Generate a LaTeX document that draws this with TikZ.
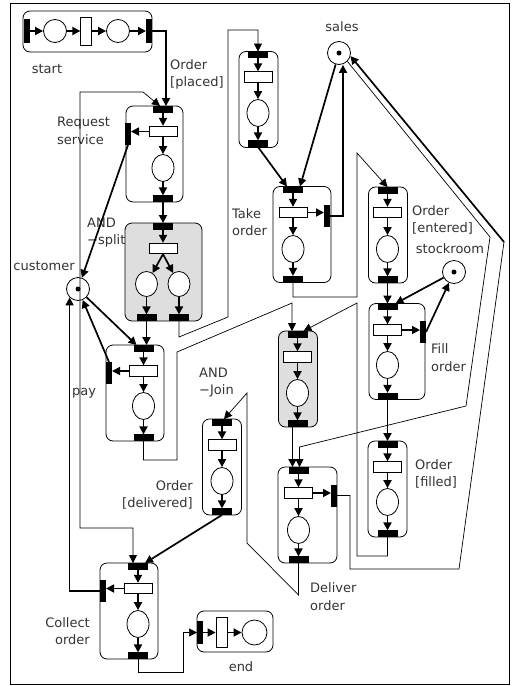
\documentclass[tikz,border=0pt]{standalone}
\usepackage{fontspec}
\setmainfont{DejaVu Sans}
\usepackage{tikz}
\usetikzlibrary{shapes.geometric,arrows.meta,positioning}

\begin{document}
\begin{tikzpicture}[
    x=1pt, y=-1pt,
    font=\fontsize{13}{17.5}\selectfont,
    box/.style={draw, rounded corners=7pt, line width=0.8pt, minimum width=58pt, minimum height=96pt, inner sep=0pt},
    nbox/.style={box, minimum width=39pt},
    gbox/.style={nbox, fill=black!13},
    hbox/.style={draw, rounded corners=7pt, line width=0.8pt, minimum height=41pt, inner sep=0pt},
    bar/.style={fill=black, minimum width=20pt, minimum height=6.5pt, inner sep=0pt, outer sep=0pt},
    vbar/.style={fill=black, minimum width=6pt, minimum height=22pt, inner sep=0pt, outer sep=0pt},
    trans/.style={draw, fill=white, line width=0.8pt, minimum width=28pt, minimum height=10.5pt, inner sep=0pt},
    vtrans/.style={trans, minimum width=10.5pt, minimum height=28pt},
    place/.style={draw, ellipse, fill=white, line width=0.8pt, minimum width=22pt, minimum height=27pt, inner sep=0pt},
    res/.style={draw, circle, fill=white, line width=0.8pt, minimum size=23pt, inner sep=0pt},
    token/.style={fill=black, circle, minimum size=5pt, inner sep=0pt},
    lbl/.style={inner sep=0pt, text=black!80},
    arrow/.style={-{Triangle[length=8pt, width=8pt]}, line width=1.7pt},
    link/.style={line width=0.7pt},
    linkarrow/.style={link, -{Triangle[length=8pt, width=8pt]}}
]
\useasboundingbox (0,0) rectangle (513,686);
\draw[line width=0.9pt] (10,3) rectangle (509,684);

% start and end
\node[hbox, minimum width=129pt] (start) at (87.5,31.5) {};
\node[vbar, minimum height=24pt] (st-in) at (26.5,31) {};
\node[res] (st-p1) at (55,31) {};
\node[vtrans] (st-t) at (86,31) {};
\node[res] (st-p2) at (118,31) {};
\node[vbar, minimum height=24pt] (st-out) at (149,31) {};
\node[lbl] (l-start) at (47,69) {start};

\node[hbox, minimum width=76pt] (end) at (235,631.5) {};
\node[vbar, minimum height=23pt] (en-in) at (200,632.5) {};
\node[vtrans, minimum width=11pt, minimum height=30pt] (en-t) at (221.5,632.5) {};
\node[res, minimum size=25pt] (en-p) at (254.5,632.5) {};
\node[lbl] (l-end) at (241,667) {end};

% resources
\node[res] (cust) at (78,289) {};
\node[token] (cust-tok) at (cust) {};
\node[res] (sales) at (339,53) {};
\node[token] (sales-tok) at (sales) {};
\node[res] (stock) at (454,272) {};
\node[token] (stock-tok) at (stock) {};

% Request service
\node[box, minimum width=57pt] (rs) at (154.5,154) {};
\node[bar] (rs-in) at (163,109.3) {};
\node[trans] (rs-t) at (163,131.5) {};
\node[place] (rs-p) at (163,168) {};
\node[bar] (rs-out) at (163,198.7) {};
\node[vbar] (rs-s) at (128,134) {};

% AND-split
\node[box, minimum width=77pt, minimum height=98pt, fill=black!13] (as) at (163.5,272) {};
\node[bar] (as-in) at (163,226.3) {};
\node[trans] (as-t) at (163,248.5) {};
\node[place, minimum height=25pt] (as-p1) at (146.5,284) {};
\node[place, minimum height=25pt] (as-p2) at (179,284) {};
\node[bar] (as-o1) at (146.5,317.7) {};
\node[bar] (as-o2) at (179,317.7) {};

% pay
\node[box] (pay) at (135,393) {};
\node[bar] (pay-in) at (143.5,348.3) {};
\node[trans] (pay-t) at (143.5,371) {};
\node[place] (pay-p) at (143.5,406) {};
\node[bar] (pay-out) at (143.5,437.7) {};
\node[vbar] (pay-s) at (109,373) {};

% receive
\node[nbox] (rc) at (258.5,99.5) {};
\node[bar] (rc-in) at (258,54.8) {};
\node[trans] (rc-t) at (258,77) {};
\node[place] (rc-p) at (258,113) {};
\node[bar] (rc-out) at (258,143.7) {};

% Take order
\node[box] (to) at (302,234.5) {};
\node[bar] (to-in) at (293,189.8) {};
\node[trans] (to-t) at (293,212.5) {};
\node[place] (to-p) at (293,249) {};
\node[bar] (to-out) at (293,279.2) {};
\node[vbar] (to-s) at (327,216) {};

% Order entered
\node[nbox] (oe) at (388,235) {};
\node[bar] (oe-in) at (387.5,190.3) {};
\node[trans] (oe-t) at (387.5,212.5) {};
\node[place] (oe-p) at (387.5,249) {};
\node[bar] (oe-out) at (387.5,279.7) {};

% Fill order
\node[box, minimum width=56pt] (fo) at (397,351.5) {};
\node[bar] (fo-in) at (387.5,306.8) {};
\node[trans] (fo-t) at (387.5,330) {};
\node[place] (fo-p) at (387.5,365) {};
\node[bar] (fo-out) at (387.5,396.2) {};
\node[vbar] (fo-s) at (423,332) {};

% Order filled
\node[nbox] (of) at (387.5,489) {};
\node[bar] (of-in) at (387.5,444.3) {};
\node[trans] (of-t) at (387.5,467) {};
\node[place] (of-p) at (387.5,502) {};
\node[bar] (of-out) at (387.5,533.7) {};

% AND-join (grey)
\node[gbox] (gy) at (298,379) {};
\node[bar] (gy-in) at (297.5,334.3) {};
\node[trans] (gy-t) at (297.5,357) {};
\node[place] (gy-p) at (297.5,393) {};
\node[bar] (gy-out) at (297.5,423.7) {};

% Deliver order
\node[box, minimum width=59pt] (dl) at (307.5,515) {};
\node[bar] (dl-in) at (298.5,470.3) {};
\node[trans] (dl-t) at (298.5,493) {};
\node[place] (dl-p) at (298.5,530) {};
\node[bar] (dl-out) at (298.5,559.7) {};
\node[vbar] (dl-s) at (334,495.5) {};

% Order delivered
\node[nbox] (de) at (222,467) {};
\node[bar] (de-in) at (222,422.3) {};
\node[trans] (de-t) at (222,445) {};
\node[place] (de-p) at (222,481) {};
\node[bar] (de-out) at (222,511.7) {};

% Collect order
\node[box] (co) at (129,611) {};
\node[bar] (co-in) at (138,566.3) {};
\node[trans] (co-t) at (138,588.5) {};
\node[place] (co-p) at (138,624) {};
\node[bar] (co-out) at (138,655.7) {};
\node[vbar] (co-s) at (103,591) {};

% labels
\node[lbl, anchor=west, align=left] (l-placed) at (170,74.5) {Order\\{[placed]}};
\node[lbl, anchor=west, align=left] (l-rs) at (57,131) {Request\\service};
\node[lbl, anchor=west, align=left] (l-split) at (87,232.5) {AND\\−split};
\node[lbl] (l-cust) at (44,266) {customer};
\node[lbl] (l-pay) at (84,393) {pay};
\node[lbl] (l-sales) at (342,27) {sales};
\node[lbl, anchor=west, align=left] (l-take) at (232,222) {Take\\order};
\node[lbl, anchor=west, align=left] (l-ent) at (412,220) {Order\\{[entered]}};
\node[lbl] (l-stock) at (450,249) {stockroom};
\node[lbl, anchor=west, align=left] (l-fill) at (431,357.5) {Fill\\order};
\node[lbl, anchor=west, align=left] (l-join) at (199,382.5) {AND\\−Join};
\node[lbl, anchor=east, align=right] (l-dlvd) at (193,495) {Order\\{[delivered]}};
\node[lbl, anchor=west, align=left] (l-filled) at (415,474) {Order\\{[filled]}};
\node[lbl, anchor=west, align=left] (l-dl) at (310,596.5) {Deliver\\order};
\node[lbl, anchor=east, align=right] (l-co) at (90,631) {Collect\\order};

% inside the boxes
\draw[arrow] (st-in) -- (st-p1);
\draw[arrow] (st-p1) -- (st-t);
\draw[arrow] (st-t) -- (st-p2);
\draw[arrow] (st-p2) -- (st-out);
\draw[arrow] (en-in) -- (en-t);
\draw[arrow] (en-t) -- (en-p);
\draw[arrow] (rs-in) -- (rs-t);
\draw[arrow] (rs-t) -- (rs-p);
\draw[arrow] (rs-p) -- (rs-out);
\draw[arrow] (rs-t.west) -- (rs-s.east |- rs-t.west);
\draw[arrow] (as-in) -- (as-t);
\draw[arrow] (as-t.south) -- (as-p1);
\draw[arrow] (as-t.south) -- (as-p2);
\draw[arrow] (as-p1) -- (as-o1);
\draw[arrow] (as-p2) -- (as-o2);
\draw[arrow] (pay-in) -- (pay-t);
\draw[arrow] (pay-t) -- (pay-p);
\draw[arrow] (pay-p) -- (pay-out);
\draw[arrow] (pay-t.west) -- (pay-s.east |- pay-t.west);
\draw[arrow] (rc-in) -- (rc-t);
\draw[arrow] (rc-t) -- (rc-p);
\draw[arrow] (rc-p) -- (rc-out);
\draw[arrow] (to-in) -- (to-t);
\draw[arrow] (to-t) -- (to-p);
\draw[arrow] (to-p) -- (to-out);
\draw[arrow] (to-t.east) -- (to-s.west |- to-t.east);
\draw[arrow] (oe-in) -- (oe-t);
\draw[arrow] (oe-t) -- (oe-p);
\draw[arrow] (oe-p) -- (oe-out);
\draw[arrow] (fo-in) -- (fo-t);
\draw[arrow] (fo-t) -- (fo-p);
\draw[arrow] (fo-p) -- (fo-out);
\draw[arrow] (fo-t.east) -- (fo-s.west |- fo-t.east);
\draw[arrow] (of-in) -- (of-t);
\draw[arrow] (of-t) -- (of-p);
\draw[arrow] (of-p) -- (of-out);
\draw[arrow] (gy-in) -- (gy-t);
\draw[arrow] (gy-t) -- (gy-p);
\draw[arrow] (gy-p) -- (gy-out);
\draw[arrow] (dl-in) -- (dl-t);
\draw[arrow] (dl-t) -- (dl-p);
\draw[arrow] (dl-p) -- (dl-out);
\draw[arrow] (dl-t.east) -- (dl-s.west |- dl-t.east);
\draw[arrow] (de-in) -- (de-t);
\draw[arrow] (de-t) -- (de-p);
\draw[arrow] (de-p) -- (de-out);
\draw[arrow] (co-in) -- (co-t);
\draw[arrow] (co-t) -- (co-p);
\draw[arrow] (co-p) -- (co-out);
\draw[arrow] (co-t.west) -- (co-s.east |- co-t.west);

% between the boxes
\draw[arrow] (st-out.east) -| ([xshift=3pt]rs-in.north);
\draw[arrow] (rs-out) -- (as-in);
\draw[arrow] (as-o1.south) -- (as-o1.south |- pay-in.north);
\draw[arrow] (rc-out.south) -- ([xshift=-6pt]to-in.north);
\draw[arrow] (sales) -- ([xshift=7pt]to-in.north);
\draw[arrow] (to-s.east) -| ([xshift=4pt]sales.south);
\draw[arrow] (oe-out) -- (fo-in);
\draw[arrow] (stock) -- ([xshift=8pt]fo-in.north);
\draw[arrow] (fo-s.east) -- (stock);
\draw[arrow] (fo-out) -- (of-in);
\draw[arrow] ([xshift=-5pt]gy-out.south) -- ([xshift=-6pt]dl-in.north);
\draw[arrow] (de-out.south) -- ([xshift=7pt]co-in.north);
\draw[arrow] (rs-s.south) -- (cust);
\draw[arrow] (cust) -- ([xshift=3pt]pay-in.north west);
\draw[arrow] (pay-s.north) -- (cust);
\draw[arrow] (co-s.west) -| (cust.south west);

\draw[linkarrow] (as-o2.south) -- (179,337) -- (228,317) -- (228,30) -| (rc-in.north);
\draw[linkarrow] (to-out.south) -- (293,297) -- (357,297) -- (357,153) -- (oe-in.north);
\draw[linkarrow] (of-out.south) -- (387.5,556) -- (357,556) -- (357,303) -- ([xshift=6pt]gy-in.north);
\draw[linkarrow] (pay-out.south) -- (143.5,460) -- (177,460) -- (177,352) -- (292,303) -- ([xshift=-5.5pt]gy-in.north);
\draw[linkarrow] (dl-out.south) -- (298.5,595) -- (247,543) -- (247,393) -- ([xshift=2pt]de-in.north);
\draw[link] (dl-s.east) -- (350,495.5) -- (350,569) -- (459,569) -- (504,242) coordinate (back);
\draw[arrow] (back) -- (sales.-15);
\draw[linkarrow] (sales.-45) -- (490,237) -- (466,406) -- (299.5,447) -- ([xshift=1pt]dl-in.north);
\draw[link, {Triangle[length=8pt, width=8pt]}-{Triangle[length=8pt, width=8pt]}] ([xshift=-3pt]rs-in.north) -- (143,92) -- (80,92) -- (80,528) -| ([xshift=-5pt]co-in.north);
\draw[linkarrow] (co-out.south) -- (138,672) -- (183,672) |- (en-in.west);
\end{tikzpicture}
\end{document}
